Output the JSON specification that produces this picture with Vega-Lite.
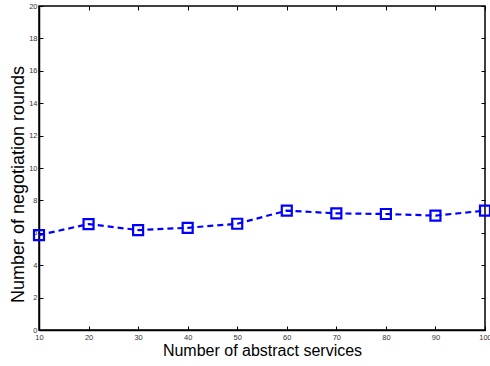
{
  "$schema": "https://vega.github.io/schema/vega-lite/v6.json",
  "autosize": {"type": "none"},
  "padding": {"left": 39, "top": 6, "right": 5, "bottom": 36},
  "width": 446,
  "height": 324,
  "background": "white",
  "config": {
    "view": {"stroke": "black", "strokeWidth": 1.5},
    "font": "Liberation Sans",
    "axis": {
      "grid": false,
      "domainColor": "black",
      "domainWidth": 1.5,
      "tickColor": "black",
      "tickSize": -4,
      "labelFontSize": 7.5,
      "labelColor": "#333",
      "labelFont": "Liberation Sans",
      "titleFont": "Liberation Sans",
      "titleFontWeight": "normal",
      "titleColor": "black"
    }
  },
  "data": {
    "values": [
      {"services": 10, "rounds": 5.86},
      {"services": 20, "rounds": 6.54},
      {"services": 30, "rounds": 6.17},
      {"services": 40, "rounds": 6.31},
      {"services": 50, "rounds": 6.56},
      {"services": 60, "rounds": 7.37},
      {"services": 70, "rounds": 7.2},
      {"services": 80, "rounds": 7.16},
      {"services": 90, "rounds": 7.06},
      {"services": 100, "rounds": 7.37}
    ]
  },
  "layer": [
    {
      "mark": {"type": "line", "color": "#0000ff", "strokeWidth": 2.2, "strokeDash": [6, 4]},
      "encoding": {
        "x": {
          "field": "services", "type": "quantitative",
          "scale": {"domain": [10, 100], "nice": false, "zero": false},
          "axis": {"values": [10, 20, 30, 40, 50, 60, 70, 80, 90, 100], "title": "Number of abstract services", "labelPadding": 7, "labelFlush": false, "titleFontSize": 16, "titleBaseline": "alphabetic", "titleY": 25, "titleX": 223}
        },
        "y": {
          "field": "rounds", "type": "quantitative",
          "scale": {"domain": [0, 20], "nice": false},
          "axis": {"values": [0, 2, 4, 6, 8, 10, 12, 14, 16, 18, 20], "title": "Number of negotiation rounds", "labelPadding": 6, "titleFontSize": 18, "titleBaseline": "alphabetic", "titleX": -16, "titleY": 178, "titleAngle": -90}
        }
      }
    },
    {
      "mark": {"type": "point", "shape": "square", "color": "#0000ff", "filled": false, "strokeWidth": 2.2, "size": 100, "opacity": 1},
      "encoding": {
        "x": {
          "field": "services", "type": "quantitative",
          "axis": {"orient": "top", "values": [10, 20, 30, 40, 50, 60, 70, 80, 90, 100], "labels": false, "title": null, "domain": false}
        },
        "y": {
          "field": "rounds", "type": "quantitative",
          "axis": {"orient": "right", "values": [0, 2, 4, 6, 8, 10, 12, 14, 16, 18, 20], "labels": false, "title": null, "domain": false}
        }
      }
    }
  ],
  "resolve": {"axis": {"x": "independent", "y": "independent"}}
}
